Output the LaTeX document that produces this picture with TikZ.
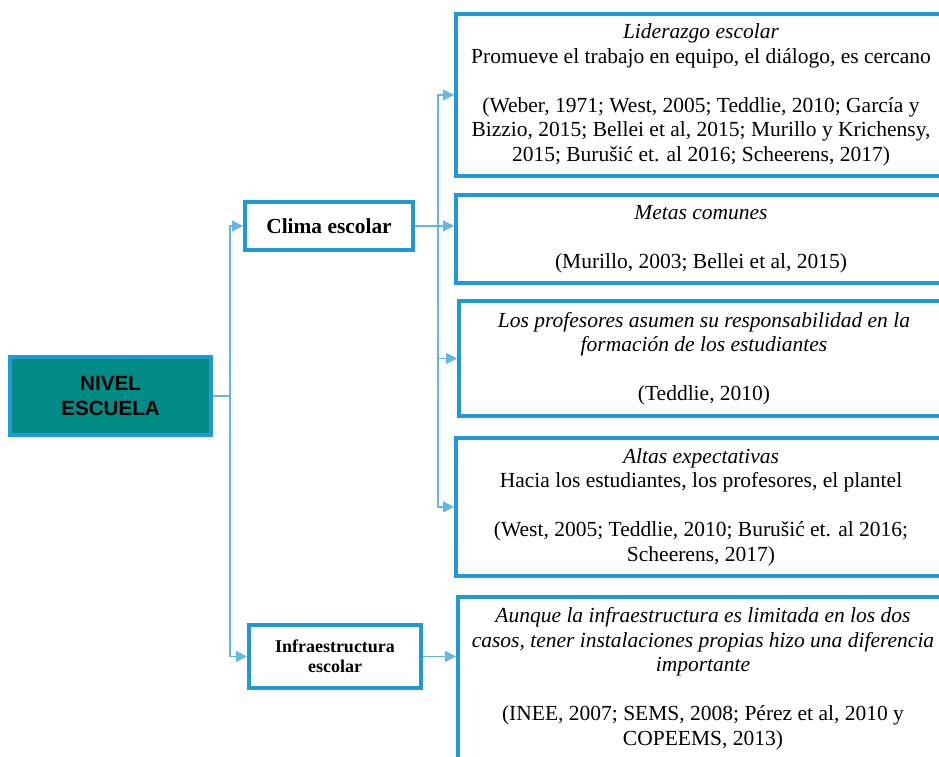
\documentclass[tikz,border=0pt]{standalone}
\usepackage{fontspec}
\setmainfont{Liberation Serif}
\newfontfamily\arialfont{Liberation Sans}
\usetikzlibrary{positioning,calc,arrows.meta}
\definecolor{borde}{RGB}{30,155,215}
\definecolor{linea}{RGB}{100,182,228}
\definecolor{verde}{RGB}{0,139,134}

\begin{document}
\begin{tikzpicture}[x=1pt,y=-1pt]
        \tikzstyle{caja}=[draw=borde, line width=4pt, inner sep=0pt, align=center]
        \tikzstyle{texto}=[caja, minimum width=490pt, font=\fontsize{21.5}{24.5}\selectfont]
        \tikzstyle{flecha}=[draw=linea, line width=1.3pt, -{Triangle[length=11pt,width=11pt]}]

        \useasboundingbox (0,0) rectangle (939,757);
        \clip (0,0) rectangle (939,757);

        % nivel y factores
        \node[caja, fill=verde, minimum width=201pt, minimum height=78pt,
              font=\arialfont\bfseries\fontsize{20.6}{25}\selectfont] (nivel) at (110.5,396) {NIVEL\\ESCUELA};
        \node[caja, minimum width=168pt, minimum height=48pt,
              font=\bfseries\fontsize{21.4}{24}\selectfont] (clima) at (329,226) {Clima escolar};
        \node[caja, minimum width=172pt, minimum height=63pt,
              font=\bfseries\fontsize{18}{20}\selectfont] (infra) at (335,656.5) {Infraestructura\\escolar};

        % descripciones
        \node[texto, minimum height=162pt] (lid) at (701,95) {\textit{Liderazgo escolar}\\
            Promueve el trabajo en equipo, el diálogo, es cercano\\[24.5pt]
            (Weber, 1971; West, 2005; Teddlie, 2010; García y\\
            Bizzio, 2015; Bellei et al, 2015; Murillo y Krichensy,\\
            2015; Burušić et. al 2016; Scheerens, 2017)};
        \node[texto, minimum height=88pt] (metas) at (701,239) {\textit{Metas comunes}\\[24.5pt]
            (Murillo, 2003; Bellei et al, 2015)};
        \node[texto, minimum height=115pt] (prof) at (704,358.5) {\textit{Los profesores asumen su responsabilidad en la}\\
            \textit{formación de los estudiantes}\\[24.5pt]
            (Teddlie, 2010)};
        \node[texto, minimum height=138pt] (altas) at (701,507) {\textit{Altas expectativas}\\
            Hacia los estudiantes, los profesores, el plantel\\[24.5pt]
            (West, 2005; Teddlie, 2010; Burušić et. al 2016;\\
            Scheerens, 2017)};
        \node[texto, minimum height=163pt] (aunque) at (703,678.5) {\textit{Aunque la infraestructura es limitada en los dos}\\
            \textit{casos, tener instalaciones propias hizo una diferencia}\\
            \textit{importante}\\[24.5pt]
            (INEE, 2007; SEMS, 2008; Pérez et al, 2010 y\\
            COPEEMS, 2013)};

        \draw[flecha] (nivel.east) -- ++(17,0) |- (clima.west);
        \draw[flecha] (nivel.east) -- ++(17,0) |- (infra.west);

        \draw[flecha] (clima.east) -- ++(23,0) |- (lid.west);
        \draw[flecha] (clima.east) -- (clima.east -| metas.west);
        \draw[flecha] (clima.east) -- ++(23,0) |- (prof.west);
        \draw[flecha] (clima.east) -- ++(23,0) |- (altas.west);

        \draw[flecha] (infra.east) -- (infra.east -| aunque.west);

    \end{tikzpicture}
\end{document}
